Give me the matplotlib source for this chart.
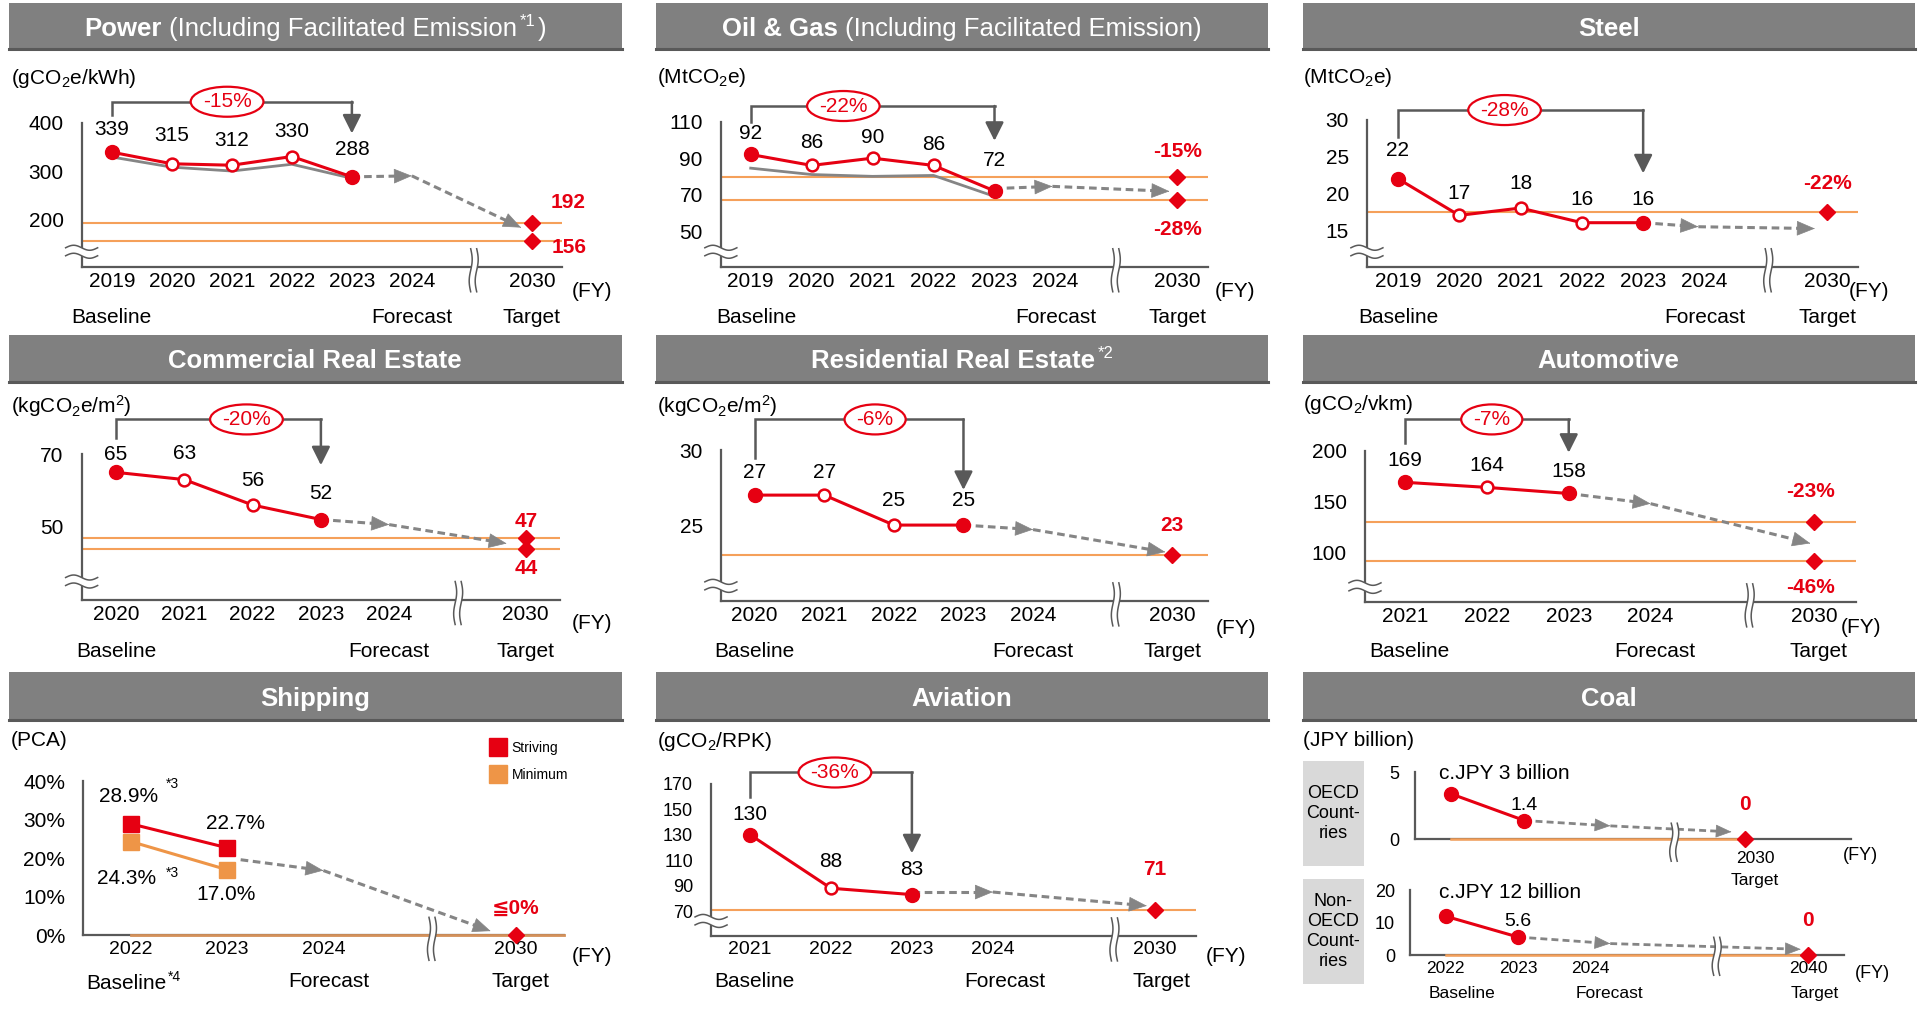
import numpy as np
import matplotlib
matplotlib.use('Agg')
import matplotlib.pyplot as plt
from matplotlib.patches import Rectangle, Polygon, Ellipse
from matplotlib.lines import Line2D
from matplotlib.transforms import blended_transform_factory

plt.rcParams['font.family'] = ['Liberation Sans', 'DejaVu Sans']
plt.rcParams['mathtext.default'] = 'regular'

RED = '#E60012'
GREY = '#858585'
DARK = '#595959'
ORANGE = '#F5A05A'
ZERO_LINE = '#D4915A'
SHIP_ORANGE = '#EE9547'
HEADER = '#808080'
BOX = '#D9D9D9'

# ---- data ----
power_years = ['2019', '2020', '2021', '2022', '2023', '2024', '2030']
power_vals = [339, 315, 312, 330, 288]
power_excl = [329, 308, 300, 314, 285]
power_fcst = [288, 290, 183]
power_tgt = [192, 156]
power_tgt_txt = ['192', '156']

oil_years = ['2019', '2020', '2021', '2022', '2023', '2024', '2030']
oil_vals = [92, 86, 90, 86, 72]
oil_excl = [84.5, 81, 80, 80.5, 69]
oil_fcst = [73.3, 74.5, 71.8]
oil_tgt = [79.5, 67]
oil_tgt_txt = ['-15%', '-28%']

steel_years = ['2019', '2020', '2021', '2022', '2023', '2024', '2030']
steel_vals = [22, 17, 18, 16, 16]
steel_fcst = [16, 15.45, 15.2]
steel_tgt = [17.5]
steel_tgt_txt = ['-22%']

cre_years = ['2020', '2021', '2022', '2023', '2024', '2030']
cre_vals = [65, 63, 56, 52]
cre_fcst = [52, 50.6, 45.4]
cre_tgt = [47, 44]
cre_tgt_txt = ['47', '44']

rre_years = ['2020', '2021', '2022', '2023', '2024', '2030']
rre_vals = [27, 27, 25, 25]
rre_fcst = [25, 24.7, 23.2]
rre_tgt = [23]
rre_tgt_txt = ['23']

auto_years = ['2021', '2022', '2023', '2024', '2030']
auto_vals = [169, 164, 158]
auto_fcst = [158, 148, 109]
auto_tgt = [130, 92]
auto_tgt_txt = ['-23%', '-46%']

ship_years = ['2022', '2023', '2024', '2030']
ship_striving = [28.9, 22.7]
ship_minimum = [24.3, 17.0]
ship_fcst = [19.6, 16.8, 1.1]
ship_tgt = [0]
ship_tgt_txt = ['≦0%']

avi_years = ['2021', '2022', '2023', '2024', '2030']
avi_vals = [130, 88, 83]
avi_fcst = [85, 85, 74.2]
avi_tgt = [71]
avi_tgt_txt = ['71']

coal_years = ['2022', '2023', '2024', '2040']
coal_oecd = [3.4, 1.4]
coal_oecd_fcst = [1.4, 1.0, 0.55]
coal_non_oecd = [12, 5.6]
coal_non_oecd_fcst = [5.6, 3.6, 1.85]

changes = {'power': '-15%', 'oil': '-22%', 'steel': '-28%', 'cre': '-20%',
           'rre': '-6%', 'auto': '-7%', 'avi': '-36%'}

# ---- canvas ----
FW, FH = 1919, 1010
GW, GH = 1568.0, 825.0   # layout grid units

fig = plt.figure(figsize=(FW / 100, FH / 100), dpi=100)
fig.patch.set_facecolor('white')


def gx(x):
    return x / GW


def gy(y):
    return 1 - y / GH


def make_axes(left, right, base, top, first, step, ref_a, ref_b):
    ax = fig.add_axes([gx(left), gy(base), (right - left) / GW, (base - top) / GH])
    ax.set_xlim((left - first) / step, (right - first) / step)
    (va, pa), (vb, pb) = ref_a, ref_b
    k = (pa - pb) / (vb - va)
    ax.set_ylim(va - (base - pa) / k, va + (pa - top) / k)
    ax.set_facecolor('none')
    ax.spines[['top', 'right']].set_visible(False)
    ax.spines[['left', 'bottom']].set_color(DARK)
    ax.spines[['left', 'bottom']].set_linewidth(1.6)
    return ax


def style_axes(ax, yticks, xpos, xlabels, ylabels=None, ysize=15, xsize=15, ypad=13, xpad=4):
    ax.set_yticks(yticks, labels=ylabels if ylabels else [f'{t:g}' for t in yticks])
    ax.set_xticks(xpos, labels=xlabels)
    ax.tick_params(axis='y', length=0, pad=ypad, labelsize=ysize)
    ax.tick_params(axis='x', length=0, pad=xpad, labelsize=xsize)


def draw_actual(ax, values, grey=None, label_dy=17):
    x = np.arange(len(values))
    v = np.asarray(values, dtype=float)
    if grey is not None:
        ax.plot(x, grey, color=GREY, lw=2, zorder=3)
    ax.plot(x, v, color=RED, lw=2.2, zorder=4)
    ends = [0, len(v) - 1]
    ax.plot(x[ends], v[ends], 'o', ms=10, color=RED, zorder=6, clip_on=False)
    if len(v) > 2:
        ax.plot(x[1:-1], v[1:-1], 'o', ms=8.5, mfc='white', mec=RED, mew=1.8, zorder=6,
                clip_on=False)
    dys = label_dy if isinstance(label_dy, list) else [label_dy] * len(v)
    for xi, vi, dy in zip(x, values, dys):
        ax.annotate(f'{vi:g}', (xi, vi), xytext=(0, dy), textcoords='offset points',
                    ha='center', va='center', fontsize=15)


def draw_forecast(ax, xs, vals, lw=2.2, scale=15):
    # dashed segments stop short of each tip; solid heads are drawn separately
    to_data = ax.transData.inverted()
    for i in range(1, len(xs)):
        p0 = ax.transData.transform((xs[i - 1], vals[i - 1]))
        p1 = ax.transData.transform((xs[i], vals[i]))
        d = (p1 - p0) / np.hypot(*(p1 - p0))
        q1 = to_data.transform(p1 - d * 8)
        ax.plot([xs[i - 1], q1[0]], [vals[i - 1], q1[1]], color=GREY, lw=lw,
                linestyle=(0, (2.5, 1.5)), zorder=3, clip_on=False)
        back = to_data.transform(p1 - d * 1)
        ax.annotate('', xy=(xs[i], vals[i]), xytext=tuple(back),
                    arrowprops=dict(arrowstyle='-|>,head_length=0.8,head_width=0.33',
                                    color=GREY, lw=0.5, shrinkA=0, shrinkB=0,
                                    mutation_scale=scale),
                    zorder=3, annotation_clip=False)


def draw_targets(ax, tx, vals, texts, offsets, lines=True, size=15):
    if lines:
        for v in vals:
            ax.axhline(v, color=ORANGE, lw=1.5, zorder=2)
    ax.plot([tx] * len(vals), vals, 'D', ms=8.5, color=RED, zorder=7, clip_on=False)
    for v, t, off in zip(vals, texts, offsets):
        ax.annotate(t, (tx, v), xytext=off, textcoords='offset points', ha='center',
                    va='center', color=RED, fontsize=size, fontweight='bold',
                    family=['Liberation Sans', 'DejaVu Sans'])


def draw_bracket(ax, x0, x1, y_top, y_left, y_tip, xc, text):
    tr = blended_transform_factory(ax.transData, fig.transFigure)
    ax.plot([x0, x0, x1], [gy(y_left), gy(y_top), gy(y_top)], color=DARK, lw=1.8,
            transform=tr, clip_on=False, solid_joinstyle='miter')
    ax.annotate('', xy=(x1, gy(y_tip)), xytext=(x1, gy(y_top)), xycoords=tr, textcoords=tr,
                arrowprops=dict(arrowstyle='-|>,head_length=0.8,head_width=0.4', color=DARK,
                                lw=1.8, shrinkA=0, shrinkB=0, mutation_scale=14),
                annotation_clip=False)
    # red ellipse with the change figure, sized from the text width
    X = ax.transData.transform((xc, 0))[0]
    Y = gy(y_top) * FH
    t = fig.text(X / FW, Y / FH, text, ha='center', va='center', fontsize=15, color=RED,
                 zorder=9)
    tw = t.get_window_extent(renderer=fig.canvas.get_renderer()).width
    fig.add_artist(Ellipse((X / FW, Y / FH), (tw + 24) / FW, 30 / FH,
                           transform=fig.transFigure, fc='white', ec=RED, lw=1.6, zorder=8))


def row_labels(ax, yc, items, size=15):
    tr = blended_transform_factory(ax.transData, fig.transFigure)
    for x, s in items:
        ax.text(x, gy(yc), s, transform=tr, ha='center', va='center', fontsize=size)


def x_break(ax, xb, up=18, down=25):
    X, Y = ax.transData.transform((xb, ax.get_ylim()[0]))
    t = np.linspace(0, 1, 30)
    ys = Y + up - (up + down) * t
    wob = 1.5 * np.sin(2 * np.pi * t)
    left = np.column_stack([X - 3 + wob, ys])
    right = np.column_stack([X + 3 + wob, ys])
    poly = np.vstack([left, right[::-1]]) / [FW, FH]
    fig.add_artist(Polygon(poly, closed=True, fc='white', ec='none',
                           transform=fig.transFigure, zorder=5))
    for ln in (left, right):
        fig.add_artist(Line2D(ln[:, 0] / FW, ln[:, 1] / FH, color=DARK, lw=1.1,
                              transform=fig.transFigure, zorder=6))


def y_break(ax, above=15):
    X, Y = ax.transData.transform((ax.get_xlim()[0], ax.get_ylim()[0]))
    t = np.linspace(-1, 1, 40)
    xs = X + 16 * t
    w = -2.5 * np.sin(np.pi * t)
    top = np.column_stack([xs, Y + above + 4 + w])
    bot = np.column_stack([xs, Y + above - 4 + w])
    poly = np.vstack([top, bot[::-1]]) / [FW, FH]
    fig.add_artist(Polygon(poly, closed=True, fc='white', ec='none',
                           transform=fig.transFigure, zorder=5))
    for ln in (top, bot):
        fig.add_artist(Line2D(ln[:, 0] / FW, ln[:, 1] / FH, color=DARK, lw=1.1,
                              transform=fig.transFigure, zorder=6))


def rich_text(xc, yb, parts, color='white'):
    renderer = fig.canvas.get_renderer()
    placed = []
    for text, size, weight, rise, gap in parts:
        t = fig.text(0, 0, text, fontsize=size, fontweight=weight, color=color,
                     ha='left', va='baseline', zorder=3)
        placed.append((t, t.get_window_extent(renderer=renderer).width, rise, gap))
    total = sum(w + g for _, w, _, g in placed)
    x = xc * FW / GW - total / 2
    base = gy(yb) * FH
    for t, w, rise, gap in placed:
        x += gap
        t.set_position((x / FW, (base + rise) / FH))
        x += w


def header(x0, x1, y0, y1, parts, size=18.5):
    fig.add_artist(Rectangle((gx(x0), gy(y1)), (x1 - x0) / GW, (y1 - y0) / GH,
                             transform=fig.transFigure, fc=HEADER, ec='none', zorder=1))
    fig.add_artist(Line2D([gx(x0), gx(x1)], [gy(y1 - 1)] * 2, color=DARK, lw=2.2,
                          transform=fig.transFigure, zorder=2))
    rich_text((x0 + x1) / 2, (y0 + y1) / 2 + 0.406 * size, parts)


def unit_label(x, yc, s, size=15):
    fig.text(gx(x), gy(yc), s, ha='left', va='center', fontsize=size)


def fy_label(x, yc, size=15):
    fig.text(gx(x), gy(yc), '(FY)', ha='center', va='center', fontsize=size)


T = 18.5
COLS = [(7.3, 507.9), (536, 1036), (1064.4, 1564.6)]
ROWS = [(2.2, 41.4), (273.7, 313.2), (548.8, 588.8)]

header(*COLS[0], *ROWS[0], [('Power', T, 'bold', 0, 0),
                            ('(Including Facilitated Emission', T, 'normal', 0, 7),
                            ('*1', 12, 'normal', 10, 3), (')', T, 'normal', 0, 2)])
header(*COLS[1], *ROWS[0], [('Oil & Gas', T, 'bold', 0, 0),
                            ('(Including Facilitated Emission)', T, 'normal', 0, 7)])
header(*COLS[2], *ROWS[0], [('Steel', T, 'bold', 0, 0)])
header(*COLS[0], *ROWS[1], [('Commercial Real Estate', T, 'bold', 0, 0)])
header(*COLS[1], *ROWS[1], [('Residential Real Estate', T, 'bold', 0, 0),
                            ('*2', 12, 'normal', 10, 3)])
header(*COLS[2], *ROWS[1], [('Automotive', T, 'bold', 0, 0)])
header(*COLS[0], *ROWS[2], [('Shipping', T, 'bold', 0, 0)])
header(*COLS[1], *ROWS[2], [('Aviation', T, 'bold', 0, 0)])
header(*COLS[2], *ROWS[2], [('Coal', T, 'bold', 0, 0)])

# ---- Power ----
ax = make_axes(66.7, 458.9, 217.9, 100.2, 91.4, 49.03, (400, 100.2), (200, 179.2))
style_axes(ax, [200, 300, 400], [0, 1, 2, 3, 4, 5, 7], power_years)
draw_targets(ax, 7, power_tgt, power_tgt_txt, [(26, 15), (27, -5)])
draw_forecast(ax, [4, 5, 6.82], power_fcst)
draw_actual(ax, power_vals, grey=power_excl, label_dy=[16, 20, 18, 18, 20])
draw_bracket(ax, 0, 4, 83.1, 94, 109, 1.92, changes['power'])
x_break(ax, 6.03)
y_break(ax)
row_labels(ax, 259, [(0, 'Baseline'), (5, 'Forecast'), (7, 'Target')])
fy_label(484, 238)
unit_label(9, 64, '(gCO$_2$e/kWh)')

# ---- Oil & Gas ----
ax = make_axes(589, 986.8, 217.9, 99.4, 613.4, 49.8, (110, 99.4), (50, 188.7))
style_axes(ax, [50, 70, 90, 110], [0, 1, 2, 3, 4, 5, 7], oil_years)
draw_targets(ax, 7, oil_tgt, oil_tgt_txt, [(0, 18.5), (0, -21)])
draw_forecast(ax, [4, 4.95, 6.87], oil_fcst)
draw_actual(ax, oil_vals, grey=oil_excl, label_dy=[15, 16.5, 14.5, 15, 21.6])
draw_bracket(ax, 0, 4, 86.6, 99.4, 115, 1.52, changes['oil'])
x_break(ax, 5.99)
y_break(ax)
row_labels(ax, 259, [(0.1, 'Baseline'), (5, 'Forecast'), (7, 'Target')])
fy_label(1009.5, 238.3)
unit_label(537, 63, '(MtCO$_2$e)')

# ---- Steel ----
ax = make_axes(1116.9, 1518, 217.9, 98, 1142.2, 50.1, (30, 98), (15, 187.9))
style_axes(ax, [15, 20, 25, 30], [0, 1, 2, 3, 4, 5, 7], steel_years)
draw_targets(ax, 7, steel_tgt, steel_tgt_txt, [(0, 20)])
draw_forecast(ax, [4, 4.9, 6.8], steel_fcst)
draw_actual(ax, steel_vals, label_dy=[20, 16, 18, 17, 17])
draw_bracket(ax, 0, 4, 89.9, 111.7, 141.6, 1.74, changes['steel'])
x_break(ax, 6.04)
y_break(ax)
row_labels(ax, 259, [(0, 'Baseline'), (5, 'Forecast'), (7, 'Target')])
fy_label(1527, 238)
unit_label(1064.5, 63, '(MtCO$_2$e)')

# ---- Commercial Real Estate ----
ax = make_axes(66.7, 457.3, 489.7, 371, 94.8, 55.8, (70, 371), (50, 430.3))
style_axes(ax, [50, 70], [0, 1, 2, 3, 4, 6], cre_years)
draw_targets(ax, 6, cre_tgt, cre_tgt_txt, [(0, 12), (0, -14)])
draw_forecast(ax, [3, 4, 5.72], cre_fcst)
draw_actual(ax, cre_vals, label_dy=[13, 19, 18, 19])
draw_bracket(ax, 0, 3, 342.6, 358, 380, 1.91, changes['cre'])
x_break(ax, 5.01)
y_break(ax, above=18)
row_labels(ax, 532.4, [(0, 'Baseline'), (4, 'Forecast'), (6, 'Target')])
fy_label(483.6, 509.3)
unit_label(9, 331.7, '(kgCO$_2$e/m$^2$)')

# ---- Residential Real Estate ----
ax = make_axes(589, 986.8, 490.8, 367.7, 616.7, 56.85, (30, 367.7), (25, 428.9))
style_axes(ax, [25, 30], [0, 1, 2, 3, 4, 6], rre_years)
draw_targets(ax, 6, rre_tgt, rre_tgt_txt, [(0, 21.6)])
draw_forecast(ax, [3, 4, 5.9], rre_fcst)
draw_actual(ax, rre_vals, label_dy=[16, 16, 18, 18])
draw_bracket(ax, 0, 3, 342.6, 374.5, 400.2, 1.73, changes['rre'])
x_break(ax, 5.19)
y_break(ax)
row_labels(ax, 532.4, [(0, 'Baseline'), (4, 'Forecast'), (6, 'Target')])
fy_label(1010, 513.4)
unit_label(537, 331.7, '(kgCO$_2$e/m$^2$)')

# ---- Automotive ----
ax = make_axes(1115.3, 1516.5, 491.6, 368.2, 1148, 66.9, (200, 368.2), (100, 451.3))
style_axes(ax, [100, 150, 200], [0, 1, 2, 3, 5], auto_years)
draw_targets(ax, 5, auto_tgt, auto_tgt_txt, [(-3, 21.6), (-3, -19)])
draw_forecast(ax, [2, 3, 4.95], auto_fcst)
draw_actual(ax, auto_vals, label_dy=16)
draw_bracket(ax, 0, 2, 342.6, 361.7, 369.8, 1.06, changes['auto'])
x_break(ax, 4.21)
y_break(ax)
row_labels(ax, 532.4, [(0.05, 'Baseline'), (3.05, 'Forecast'), (5.05, 'Target')])
fy_label(1521, 512.8)
unit_label(1064.5, 330, '(gCO$_2$/vkm)')

# ---- Shipping ----
ax = make_axes(68, 460.6, 764, 638, 107.1, 78.55, (0, 764), (40, 638))
style_axes(ax, [0, 10, 20, 30, 40], [0, 1, 2, 4], ship_years,
           ylabels=['0%', '10%', '20%', '30%', '40%'], xsize=14)
ax.plot([0, ax.get_xlim()[1]], [0, 0], color=ZERO_LINE, lw=2, zorder=3, clip_on=False)
draw_targets(ax, 4, ship_tgt, ship_tgt_txt, [(0, 19.7)], lines=False)
draw_forecast(ax, [1.14, 2, 3.74], ship_fcst)
ax.plot([0, 1], ship_minimum, '-s', color=SHIP_ORANGE, ms=11, lw=2.2, zorder=5, clip_on=False)
ax.plot([0, 1], ship_striving, '-s', color=RED, ms=11, lw=2.2, zorder=6, clip_on=False)
for xi, v, off in [(0, ship_striving[0], (-1.8, 19.4)), (1, ship_striving[1], (6, 17.6)),
                   (0, ship_minimum[0], (-3, -26.4)), (1, ship_minimum[1], (-1, -17.9))]:
    ax.annotate(f'{v:.1f}%', (xi, v), xytext=off, textcoords='offset points',
                ha='center', va='center', fontsize=15)
for v, off in [(ship_striving[0], (30, 28.4)), (ship_minimum[0], (30, -22.9))]:
    ax.annotate('*3', (0, v), xytext=off, textcoords='offset points',
                ha='center', va='center', fontsize=10)
legend_handles = [Line2D([], [], ls='none', marker='s', ms=13, color=RED),
                  Line2D([], [], ls='none', marker='s', ms=13, color=SHIP_ORANGE)]
ax.legend(legend_handles, ['Striving', 'Minimum'], loc='upper left',
          bbox_to_anchor=(gx(401), gy(605)), bbox_transform=fig.transFigure,
          frameon=False, fontsize=10, handlelength=1.0, handletextpad=0.5,
          labelspacing=0.95, borderpad=0, borderaxespad=0)
x_break(ax, 3.13)
rich_text(109, 802 + 0.406 * 15, [('Baseline', 15, 'normal', 0, 0), ('*4', 10, 'normal', 8, 1)],
          color='black')
row_labels(ax, 802, [(2.06, 'Forecast'), (4.05, 'Target')])
fy_label(483.6, 781.6)
unit_label(9, 604.6, '(PCA)')

# ---- Aviation ----
ax = make_axes(581, 976.9, 764.5, 640, 612.7, 66.2, (170, 640), (70, 744.3))
style_axes(ax, [70, 90, 110, 130, 150, 170], [0, 1, 2, 3, 5], avi_years, ysize=13, xsize=14)
draw_targets(ax, 5, avi_tgt, avi_tgt_txt, [(0, 29)])
draw_forecast(ax, [2, 3, 4.9], avi_fcst)
draw_actual(ax, avi_vals, label_dy=[14.5, 19, 18])
draw_bracket(ax, 0, 2, 631, 651, 697, 1.05, changes['avi'])
x_break(ax, 4.5)
y_break(ax)
row_labels(ax, 801.5, [(0.05, 'Baseline'), (3.15, 'Forecast'), (5.08, 'Target')])
fy_label(1001.7, 781.6)
unit_label(537, 605.4, '(gCO$_2$/RPK)')

# ---- Coal ----
unit_label(1064.5, 604.6, '(JPY billion)')
for y0, y1, txt in [(621.8, 707.3, 'OECD\nCount-\nries'),
                    (718.2, 803.4, 'Non-\nOECD\nCount-\nries')]:
    fig.add_artist(Rectangle((gx(1064.5), gy(y1)), (1114.6 - 1064.5) / GW, (y1 - y0) / GH,
                             transform=fig.transFigure, fc=BOX, ec='none', zorder=1))
    fig.text(gx((1064.5 + 1114.6) / 2), gy((y0 + y1) / 2), txt, ha='center', va='center',
             fontsize=13, linespacing=1.25)

# OECD countries
ax = make_axes(1156, 1512.6, 685.5, 631, 1185.6, 60, (0, 685.5), (5, 631))
style_axes(ax, [0, 5], [], [], ysize=13, ypad=11)
ax.plot([0, 4], [0, 0], color=ORANGE, lw=1.8, zorder=3, clip_on=False)
draw_targets(ax, 4, [0], ['0'], [(0, 25)], lines=False)
draw_forecast(ax, [1, 2.17, 3.82], coal_oecd_fcst, lw=2, scale=13)
ax.plot([0, 1], coal_oecd, 'o-', color=RED, ms=10, lw=2.2, zorder=6, clip_on=False)
ax.annotate(f'{coal_oecd[1]:g}', (1, coal_oecd[1]), xytext=(0, 11), textcoords='offset points',
            ha='center', va='center', fontsize=14)
fig.text(gx(1175.7), gy(631.9), 'c.JPY 3 billion', ha='left', va='center', fontsize=15)
x_break(ax, 3.04, up=16, down=22)
row_labels(ax, 701.3, [(4.14, '2030')], size=12.5)
row_labels(ax, 719, [(4.14, 'Target')], size=12.5)
fy_label(1520, 698.6, size=13)

# non-OECD countries
ax = make_axes(1152.5, 1506.5, 780.3, 727.2, 1181.3, 59.2, (0, 780.3), (20, 727.2))
style_axes(ax, [0, 10, 20], [0, 1, 2, 5], coal_years, ysize=13, xsize=12.5, ypad=11)
ax.plot([0, 5], [0, 0], color=ORANGE, lw=1.8, zorder=3, clip_on=False)
draw_targets(ax, 5, [0], ['0'], [(0, 25)], lines=False)
draw_forecast(ax, [1, 2.27, 4.9], coal_non_oecd_fcst, lw=2, scale=13)
ax.plot([0, 1], coal_non_oecd, 'o-', color=RED, ms=10, lw=2.2, zorder=6, clip_on=False)
ax.annotate(f'{coal_non_oecd[1]:g}', (1, coal_non_oecd[1]), xytext=(0, 11),
            textcoords='offset points', ha='center', va='center', fontsize=14)
fig.text(gx(1175.7), gy(729), 'c.JPY 12 billion', ha='left', va='center', fontsize=15)
x_break(ax, 3.74, up=18, down=20)
row_labels(ax, 811.6, [(0.22, 'Baseline'), (2.26, 'Forecast'), (5.09, 'Target')], size=12.5)
fy_label(1529.6, 795, size=13)

fig.savefig('out.png', dpi=100)
